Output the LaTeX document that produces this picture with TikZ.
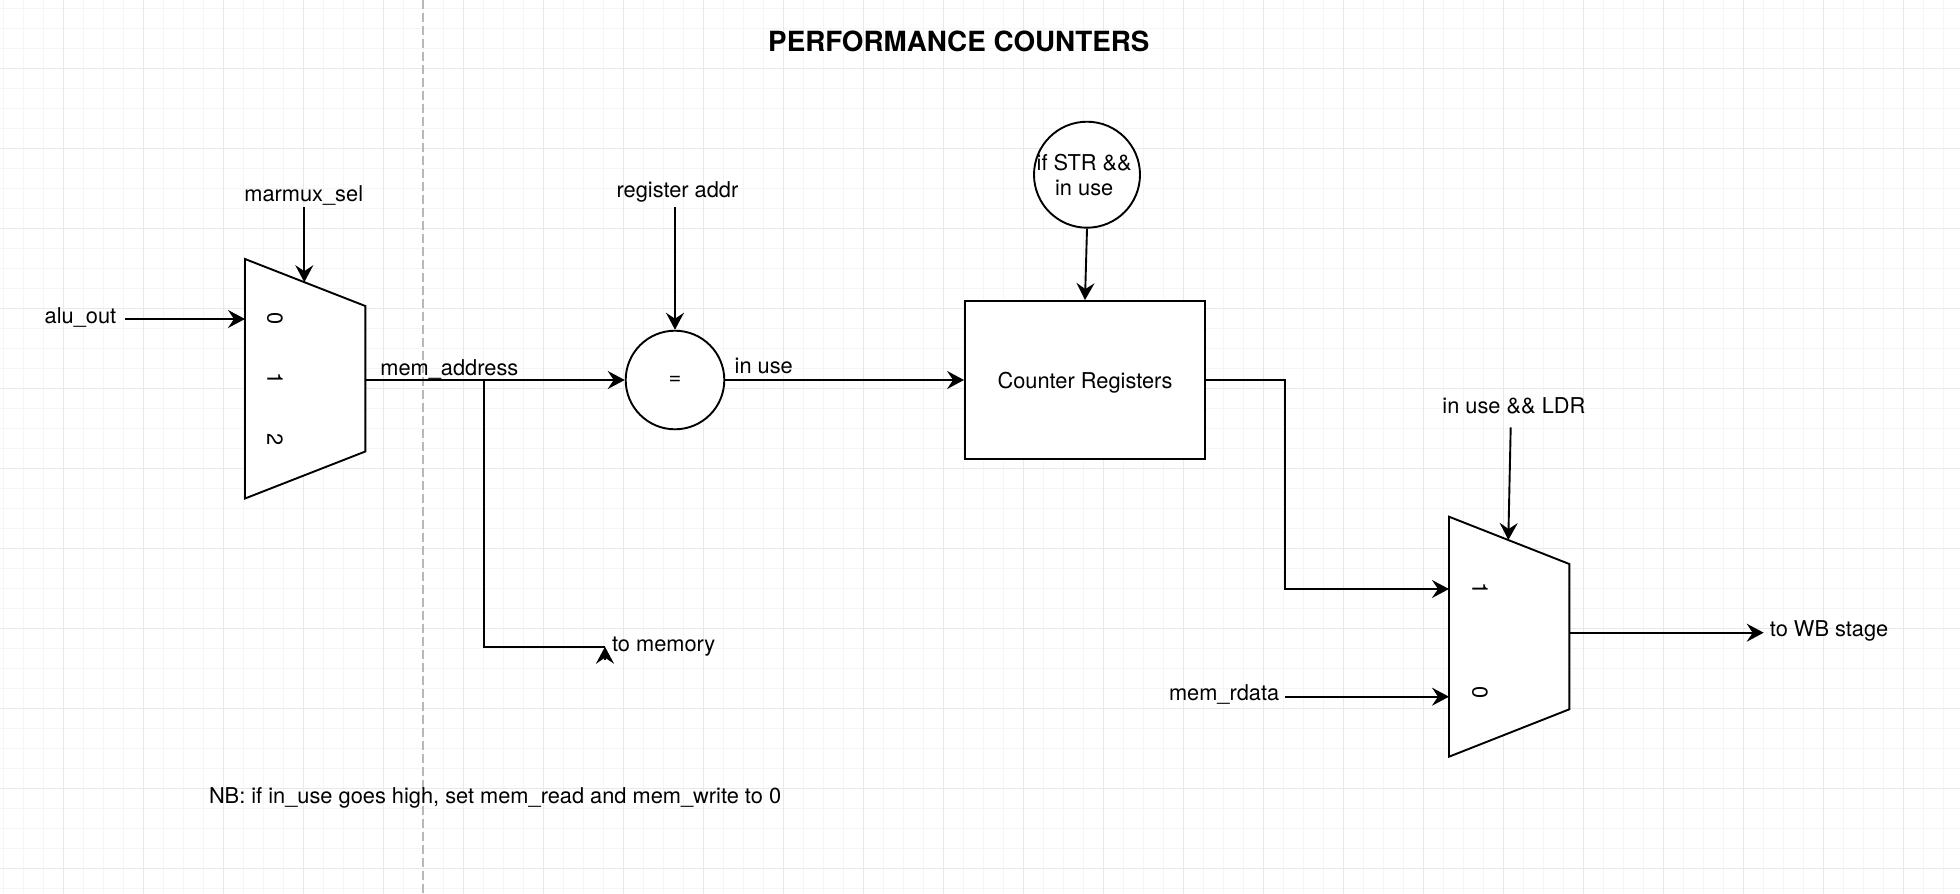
\documentclass[tikz,border=0pt]{standalone}
\usepackage{fontspec}
\setmainfont{TeX Gyre Heros}
\usetikzlibrary{arrows.meta}
\tikzset{
  minorgrid/.style={draw=black!4, line width=0.5pt},
  majorgrid/.style={draw=black!9, line width=0.5pt},
  wire/.style={draw=black, line width=0.95pt},
  arr/.style={wire, -{Stealth[length=8.5pt,width=9pt,inset=3pt]}},
  lbl/.style={inner sep=0pt, font=\fontsize{10.9}{12.85}\selectfont},
  ttl/.style={inner sep=0pt, font=\fontsize{13.9}{16}\selectfont\bfseries},
  muxshape/.style={draw=black, fill=white, line width=0.95pt, line join=miter},
  circnode/.style={circle, draw=black, fill=white, line width=0.95pt, inner sep=0pt},
  boxnode/.style={rectangle, draw=black, fill=white, line width=0.95pt, inner sep=0pt},
  digit/.style={lbl, rotate=-90}
}
\begin{document}
\begin{tikzpicture}[x=0.5pt,y=-0.5pt]
\useasboundingbox (0,0) rectangle (1960,894);
\fill[white] (0,0) rectangle (1960,894);
% grid
\foreach \x in {3,23,...,1960} \draw[minorgrid] (\x,0) -- (\x,894);
\foreach \y in {8,28,...,894} \draw[minorgrid] (0,\y) -- (1960,\y);
\foreach \x in {63,143,...,1960} \draw[majorgrid] (\x,0) -- (\x,894);
\foreach \y in {68,148,...,894} \draw[majorgrid] (0,\y) -- (1960,\y);
% dashed separator
\draw[draw=black!28, line width=0.75pt, dash pattern=on 4.5pt off 2pt] (423,0) -- (423,894);

% title
\node[ttl, anchor=base] (title) at (958.8,51.7) {PERFORMANCE COUNTERS};

% mux 1
\coordinate (m1tl) at (245,259);
\coordinate (m1tr) at (365.3,306);
\coordinate (m1br) at (365.3,451.5);
\coordinate (m1bl) at (245,498.5);
\draw[muxshape] (m1tl) -- (m1tr) -- (m1br) -- (m1bl) -- cycle;
\node[digit] (m1d0) at (275,318.5) {0};
\node[digit] (m1d1) at (275,379) {1};
\node[digit] (m1d2) at (275,440) {2};
\coordinate (m1in0) at (245,319);
\coordinate (m1sel) at (304.3,282.2);
\coordinate (m1out) at (365.3,380);

% labels
\node[lbl, anchor=base west] (aluout) at (44.3,323.3) {alu\_out};
\node[lbl, anchor=base west] (marmux) at (244,201.7) {marmux\_sel};
\node[lbl, anchor=base west] (memaddr) at (380,375.7) {mem\_address};
\node[lbl, anchor=base] (regaddr) at (677.5,197.3) {register addr};
\node[lbl, anchor=base west] (inuse) at (734.3,373.3) {in use};
\node[lbl, anchor=base west] (tomem) at (611.7,651.7) {to memory};
\node[lbl, anchor=base] (ldr) at (1513.9,413.3) {in use \&\& LDR};
\node[lbl, anchor=base west] (rdata) at (1168.6,700) {mem\_rdata};
\node[lbl, anchor=base west] (towb) at (1769.5,636) {to WB stage};
\node[lbl, anchor=base west] (nb) at (208.6,803) {NB: if in\_use goes high, set mem\_read and mem\_write to 0};

% comparator and counter block
\node[circnode, minimum size=49.3pt, font=\fontsize{10.9}{12.85}\selectfont] (eq) at (675,380) {=};
\node[circnode, minimum size=53pt] (strc) at (1087,174.7) {};
\node[lbl, align=center] (strtxt) at (1084.2,174.9) {if STR \&\&\\in use};
\node[boxnode, minimum width=120pt, minimum height=79pt, text depth=0pt, font=\fontsize{10.9}{12.85}\selectfont] (box) at (1085,380) {Counter Registers};

% mux 2
\coordinate (m2tl) at (1449,516.7);
\coordinate (m2tr) at (1569.3,564);
\coordinate (m2br) at (1569.3,709.3);
\coordinate (m2bl) at (1449,756.7);
\draw[muxshape] (m2tl) -- (m2tr) -- (m2br) -- (m2bl) -- cycle;
\node[digit] (m2d1) at (1480,588.3) {1};
\node[digit] (m2d0) at (1480,692.7) {0};
\coordinate (m2in1) at (1449,589);
\coordinate (m2in0) at (1449,696.7);
\coordinate (m2sel) at (1508.3,540);
\coordinate (m2out) at (1569.3,632.7);

% connector end points
\coordinate (aluS) at (125,319);
\coordinate (selS) at (304.3,207.3);
\coordinate (regS) at (675,207.3);
\coordinate (br1) at (484.3,380);
\coordinate (br2) at (484.3,646.7);
\coordinate (tm) at (605,646.7);
\coordinate (tmtail) at (605,668);
\coordinate (bend) at (1285,589);
\coordinate (ldrS) at (1510.7,427.3);
\coordinate (rdataS) at (1285,696.7);
\coordinate (wbE) at (1763.7,632.7);

% connectors
\draw[arr] (aluS) -- (m1in0);
\draw[arr] (selS) -- (m1sel);
\draw[arr] (m1out) -- (eq.west);
\draw[wire] (br1) -- (br2) -- (tm);
\draw[arr, shorten <=4pt] (tmtail) -- (tm);
\draw[arr] (regS) -- (eq.north);
\draw[arr] (eq.east) -- (box.west);
\draw[arr] (strc.south) -- (box.north);
\draw[arr] (box.east) -| (bend) -- (m2in1);
\draw[arr] (ldrS) -- (m2sel);
\draw[arr] (rdataS) -- (m2in0);
\draw[arr] (m2out) -- (wbE);
\end{tikzpicture}
\end{document}
